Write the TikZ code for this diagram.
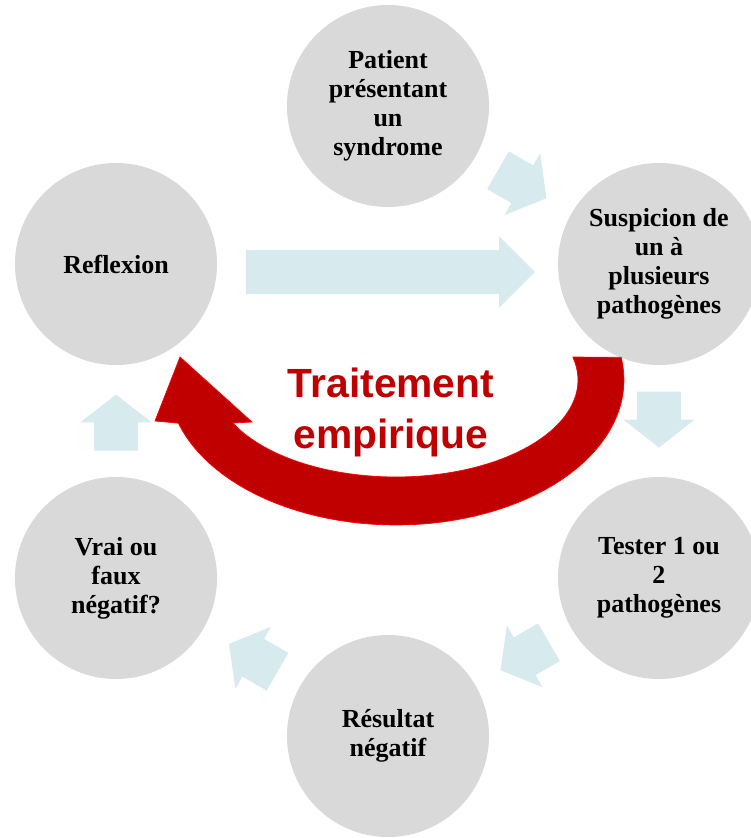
\documentclass[tikz,border=0pt]{standalone}
\usepackage{fontspec}
\setmainfont{Liberation Serif}
\newfontfamily\arialfont{Liberation Sans}
\usetikzlibrary{shapes.arrows,calc,positioning}
\definecolor{cercle}{RGB}{217,217,217}
\definecolor{fleche}{RGB}{215,235,238}
\definecolor{rouge}{RGB}{192,0,0}

\tikzset{
  etape/.style={circle, fill=cercle, minimum size=5.05cm, inner sep=0pt, align=center,
    font=\bfseries\fontsize{18.5}{20.6}\selectfont},
  bloc/.style={single arrow, fill=fleche, inner xsep=0pt, inner ysep=0.5375cm,
    minimum height=1.4cm, single arrow head extend=0.35cm, single arrow tip angle=104}
}

\begin{document}
\begin{tikzpicture}[x=0.025cm, y=-0.025cm]
  \path[use as bounding box, clip] (0,0) rectangle (751,838);

  \node[etape] (pat) at (388,106) {Patient\\présentant\\un\\syndrome};
  \node[etape] (sus) at (659,264) {Suspicion de\\un à\\plusieurs\\pathogènes};
  \node[etape] (tes) at (659,578) {Tester 1 ou\\2\\pathogènes};
  \node[etape] (res) at (388,736) {Résultat\\négatif};
  \node[etape] (vra) at (116,578) {Vrai ou\\faux\\négatif?};
  \node[etape] (ref) at (116,264) {Reflexion};

  \node[bloc, rotate=-30] (f1) at ($(pat)!0.5!(sus)!-0.25cm!(sus)$) {};
  \node[bloc, rotate=-90] (f2) at ($(sus)!0.5!(tes)!-0.25cm!(tes)$) {};
  \node[bloc, rotate=-150] (f3) at ($(tes)!0.5!(res)!-0.25cm!(res)$) {};
  \node[bloc, rotate=150] (f4) at ($(res)!0.5!(vra)!-0.25cm!(vra)$) {};
  \node[bloc, rotate=90] (f5) at ($(vra)!0.5!(ref)!-0.25cm!(ref)$) {};
  \node[bloc, minimum height=7.225cm, single arrow tip angle=90] (f0)
    at ($(ref)!0.5!(sus)+(-8,8)$) {};

  \path[fill=rouge, draw=red, line width=0.5pt]
    plot[domain=-9:162.7, samples=60] ({396+228*cos(\x)},{380+145*sin(\x)})
    -- (155,421) -- (180,357) -- (252,422)
    -- plot[domain=153.7:-13.7, samples=60] ({396+182*cos(\x)},{380+97*sin(\x)})
    -- cycle;

  \node[text=rouge, align=center, font=\arialfont\bfseries\fontsize{29}{36.3}\selectfont]
    (trt) at (391,412) {Traitement\\empirique};
\end{tikzpicture}
\end{document}
